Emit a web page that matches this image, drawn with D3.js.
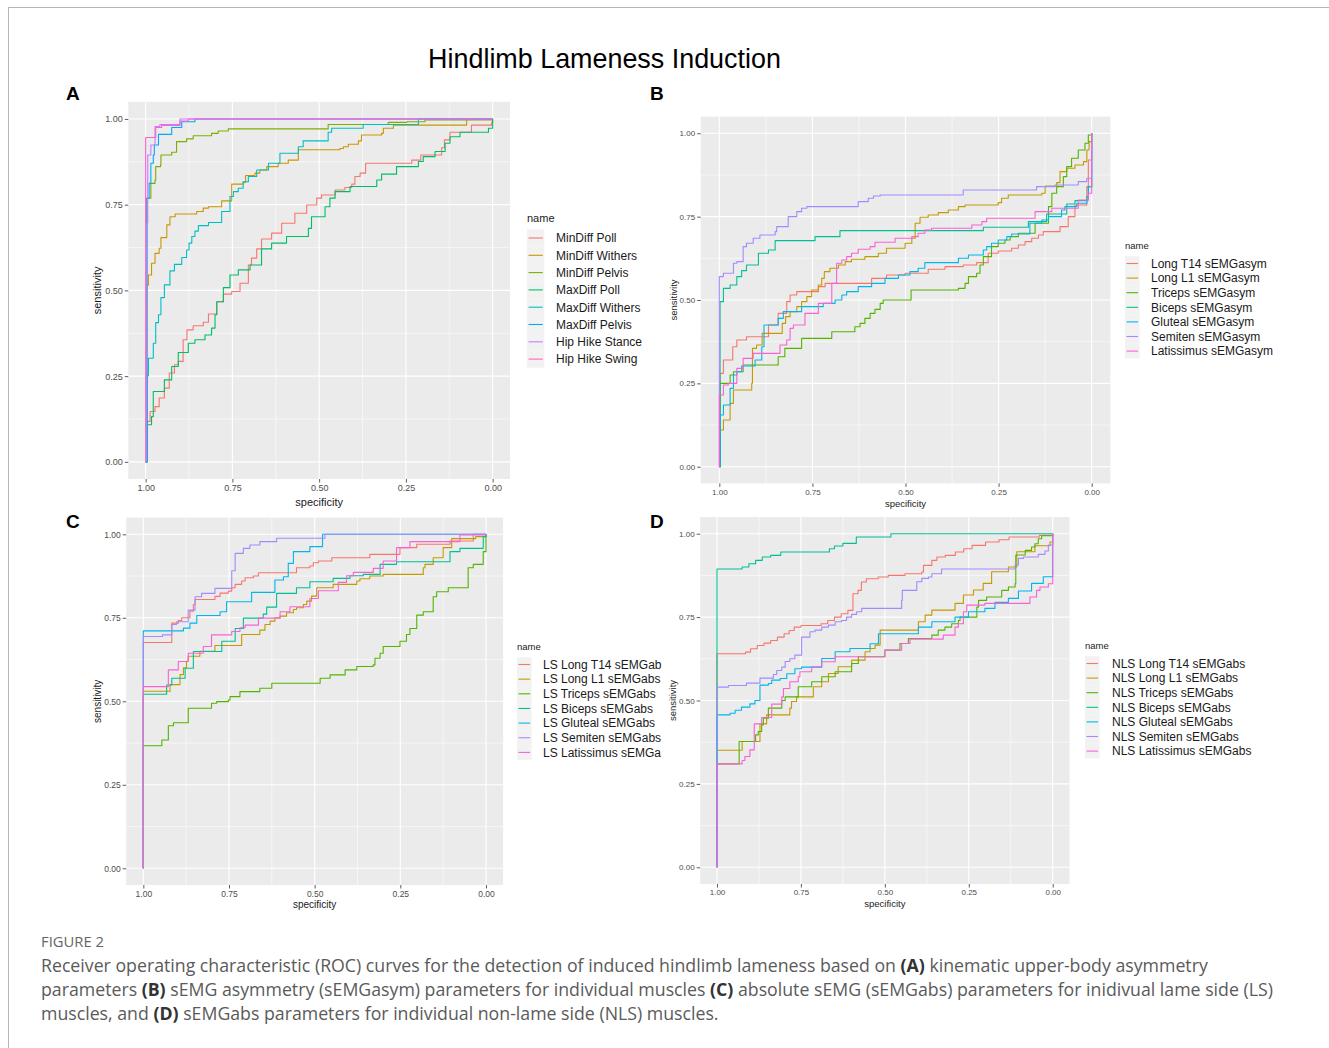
<!DOCTYPE html>
<html><head><meta charset="utf-8">
<script src="https://cdn.jsdelivr.net/npm/d3@7"></script>
<style>body{margin:0;background:#fff;} svg{display:block;font-family:"Liberation Sans",Arial,sans-serif;}</style>
</head><body><script>
// ---------------- DATA ----------------
const tickValues = [1, 0.75, 0.5, 0.25, 0];
const tickLabels = ["1.00", "0.75", "0.50", "0.25", "0.00"];
const minorValues = [0.875, 0.625, 0.375, 0.125];

const namesA = ["MinDiff Poll","MinDiff Withers","MinDiff Pelvis","MaxDiff Poll","MaxDiff Withers","MaxDiff Pelvis","Hip Hike Stance","Hip Hike Swing"];
const namesB = ["Long T14 sEMGasym","Long L1 sEMGasym","Triceps sEMGasym","Biceps sEMGasym","Gluteal sEMGasym","Semiten sEMGasym","Latissimus sEMGasym"];
const namesC = ["LS Long T14 sEMGab","LS Long L1 sEMGabs","LS Triceps sEMGabs","LS Biceps sEMGabs","LS Gluteal sEMGabs","LS Semiten sEMGabs","LS Latissimus sEMGa"];
const namesD = ["NLS Long T14 sEMGabs","NLS Long L1 sEMGabs","NLS Triceps sEMGabs","NLS Biceps sEMGabs","NLS Gluteal sEMGabs","NLS Semiten sEMGabs","NLS Latissimus sEMGabs"];

const colors8 = ["#F8766D","#CD9600","#7CAE00","#00BE67","#00BFC4","#00A9FF","#C77CFF","#FF61CC"];
const colors7 = ["#F8766D","#C49A00","#53B400","#00C094","#00B6EB","#A58AFF","#FB61D7"];

// [specificity, sensitivity] step vertices
const A_MinDiffPoll = [[1,0],[0.996,0.118],[0.987,0.147],[0.973,0.161],[0.961,0.186],[0.946,0.215],[0.932,0.259],[0.917,0.283],[0.906,0.293],[0.892,0.356],[0.881,0.385],[0.863,0.397],[0.834,0.407],[0.819,0.431],[0.795,0.467],[0.776,0.489],[0.752,0.497],[0.728,0.521],[0.704,0.574],[0.695,0.594],[0.680,0.621],[0.666,0.650],[0.637,0.667],[0.608,0.696],[0.570,0.725],[0.536,0.749],[0.507,0.769],[0.493,0.778],[0.454,0.793],[0.426,0.800],[0.406,0.810],[0.397,0.832],[0.382,0.842],[0.366,0.871],[0.233,0.880],[0.207,0.895],[0.147,0.916],[0.139,0.939],[0.123,0.961],[0.061,0.982],[0.003,0.990],[0,1]];
const A_MinDiffWithers = [[1,0],[0.997,0.516],[0.992,0.545],[0.983,0.579],[0.973,0.608],[0.961,0.623],[0.956,0.654],[0.939,0.691],[0.930,0.715],[0.915,0.723],[0.853,0.730],[0.834,0.740],[0.819,0.744],[0.781,0.761],[0.752,0.810],[0.719,0.815],[0.712,0.835],[0.685,0.842],[0.671,0.851],[0.651,0.861],[0.618,0.871],[0.589,0.880],[0.560,0.910],[0.440,0.914],[0.430,0.919],[0.416,0.926],[0.387,0.936],[0.378,0.953],[0.320,0.958],[0.315,0.973],[0.286,0.982],[0.075,1],[0,1]];
const A_MinDiffPelvis = [[1,0],[0.997,0.769],[0.985,0.812],[0.973,0.822],[0.971,0.861],[0.957,0.866],[0.956,0.895],[0.925,0.903],[0.911,0.934],[0.882,0.942],[0.863,0.951],[0.810,0.958],[0.791,0.965],[0.762,0.971],[0.474,0.984],[0.301,0.990],[0.248,0.992],[0.195,0.997],[0,1]];
const A_MaxDiffPoll = [[1,0],[0.996,0.108],[0.983,0.132],[0.978,0.205],[0.946,0.239],[0.925,0.278],[0.906,0.319],[0.877,0.346],[0.858,0.356],[0.829,0.370],[0.810,0.390],[0.800,0.429],[0.795,0.467],[0.776,0.508],[0.757,0.545],[0.733,0.560],[0.699,0.574],[0.666,0.621],[0.637,0.638],[0.594,0.657],[0.531,0.681],[0.522,0.715],[0.483,0.744],[0.469,0.769],[0.454,0.788],[0.411,0.803],[0.334,0.822],[0.320,0.839],[0.277,0.861],[0.214,0.876],[0.200,0.890],[0.166,0.905],[0.137,0.929],[0.123,0.948],[0.094,0.961],[0.012,0.973],[0,1]];
const A_MaxDiffWithers = [[1,0],[0.996,0.251],[0.992,0.302],[0.978,0.346],[0.971,0.406],[0.963,0.429],[0.956,0.479],[0.946,0.516],[0.930,0.557],[0.917,0.576],[0.896,0.596],[0.882,0.618],[0.875,0.638],[0.867,0.657],[0.858,0.673],[0.848,0.689],[0.819,0.698],[0.781,0.730],[0.757,0.774],[0.747,0.788],[0.733,0.798],[0.719,0.817],[0.704,0.832],[0.680,0.851],[0.646,0.871],[0.613,0.900],[0.560,0.919],[0.546,0.936],[0.474,0.961],[0.464,0.973],[0.373,0.984],[0.214,1],[0,1]];
const A_MaxDiffPelvis = [[1,0],[0.996,0.769],[0.990,0.812],[0.985,0.871],[0.978,0.895],[0.975,0.924],[0.963,0.955],[0.925,0.975],[0.896,0.992],[0.858,1],[0,1]];
const A_HipHikeStance = [[1,0],[0.998,0.696],[0.994,0.895],[0.985,0.924],[0.973,0.978],[0.959,0.984],[0.901,1],[0,1]];
const A_HipHikeSwing = [[1,0],[1,0.946],[0.971,0.975],[0.954,0.981],[0.901,0.994],[0.877,1],[0,1]];

const B_LongT14 = [[1,0],[0.998,0.28],[0.989,0.32],[0.964,0.36],[0.953,0.38],[0.927,0.39],[0.868,0.425],[0.842,0.46],[0.819,0.495],[0.810,0.515],[0.792,0.525],[0.734,0.54],[0.716,0.55],[0.591,0.565],[0.551,0.575],[0.501,0.58],[0.439,0.592],[0.394,0.60],[0.345,0.605],[0.309,0.612],[0.278,0.64],[0.251,0.647],[0.215,0.655],[0.197,0.665],[0.179,0.675],[0.161,0.685],[0.143,0.695],[0.130,0.705],[0.085,0.72],[0.063,0.75],[0.045,0.785],[0.013,0.84],[0.009,0.92],[0,1]];
const B_LongL1 = [[1,0],[0.998,0.11],[0.989,0.14],[0.971,0.19],[0.962,0.23],[0.913,0.25],[0.911,0.355],[0.900,0.365],[0.885,0.40],[0.831,0.43],[0.822,0.45],[0.810,0.465],[0.792,0.48],[0.779,0.495],[0.765,0.51],[0.752,0.53],[0.734,0.545],[0.725,0.565],[0.718,0.585],[0.703,0.595],[0.680,0.605],[0.662,0.615],[0.645,0.622],[0.609,0.63],[0.573,0.64],[0.551,0.655],[0.501,0.67],[0.483,0.685],[0.474,0.73],[0.461,0.748],[0.439,0.755],[0.412,0.762],[0.385,0.77],[0.358,0.78],[0.340,0.785],[0.251,0.792],[0.242,0.805],[0.224,0.815],[0.134,0.82],[0.125,0.842],[0.094,0.852],[0.085,0.885],[0.067,0.895],[0.045,0.905],[0.022,0.915],[0.013,0.95],[0.007,0.975],[0,1]];
const B_Triceps = [[1,0],[0.998,0.25],[0.971,0.275],[0.962,0.285],[0.936,0.305],[0.842,0.33],[0.824,0.355],[0.779,0.385],[0.698,0.405],[0.636,0.42],[0.622,0.43],[0.609,0.445],[0.595,0.46],[0.582,0.472],[0.568,0.49],[0.560,0.50],[0.485,0.53],[0.358,0.535],[0.340,0.55],[0.331,0.57],[0.309,0.58],[0.300,0.605],[0.291,0.63],[0.269,0.66],[0.251,0.67],[0.233,0.68],[0.219,0.69],[0.197,0.70],[0.152,0.73],[0.116,0.78],[0.107,0.82],[0.094,0.84],[0.076,0.87],[0.067,0.90],[0.054,0.925],[0.036,0.95],[0.018,0.97],[0.009,0.995],[0,1]];
const B_Biceps = [[1,0],[0.998,0.495],[0.989,0.535],[0.971,0.545],[0.953,0.57],[0.940,0.588],[0.927,0.605],[0.895,0.64],[0.868,0.65],[0.850,0.678],[0.743,0.69],[0.676,0.708],[0.291,0.718],[0.170,0.735],[0.121,0.758],[0.067,0.788],[0.045,0.798],[0.013,0.81],[0.009,0.84],[0,1]];
const B_Gluteal = [[1,0],[0.998,0.155],[0.989,0.185],[0.971,0.235],[0.962,0.275],[0.953,0.285],[0.940,0.302],[0.904,0.32],[0.886,0.36],[0.880,0.425],[0.842,0.445],[0.828,0.465],[0.779,0.48],[0.721,0.49],[0.689,0.50],[0.671,0.515],[0.658,0.525],[0.627,0.54],[0.591,0.55],[0.555,0.565],[0.519,0.575],[0.488,0.585],[0.466,0.595],[0.448,0.612],[0.358,0.625],[0.331,0.635],[0.291,0.65],[0.282,0.66],[0.269,0.67],[0.251,0.68],[0.228,0.69],[0.215,0.698],[0.166,0.73],[0.134,0.74],[0.116,0.75],[0.081,0.77],[0.072,0.78],[0.040,0.79],[0.013,0.80],[0.009,0.84],[0,1]];
const B_Semiten = [[1,0],[1,0.57],[0.989,0.58],[0.962,0.61],[0.953,0.615],[0.936,0.66],[0.927,0.67],[0.909,0.685],[0.891,0.695],[0.850,0.705],[0.846,0.72],[0.815,0.75],[0.792,0.765],[0.779,0.775],[0.765,0.78],[0.627,0.795],[0.600,0.805],[0.586,0.812],[0.568,0.815],[0.345,0.83],[0.148,0.84],[0.098,0.845],[0.036,0.855],[0.013,0.865],[0,1]];
const B_Latissimus = [[1,0],[1,0.215],[0.989,0.245],[0.976,0.25],[0.953,0.295],[0.936,0.325],[0.909,0.34],[0.837,0.365],[0.819,0.38],[0.810,0.415],[0.801,0.425],[0.770,0.46],[0.734,0.49],[0.698,0.55],[0.685,0.61],[0.671,0.62],[0.658,0.63],[0.645,0.64],[0.627,0.652],[0.595,0.66],[0.582,0.673],[0.528,0.685],[0.483,0.69],[0.466,0.70],[0.448,0.71],[0.430,0.715],[0.322,0.725],[0.295,0.735],[0.282,0.745],[0.152,0.765],[0.107,0.775],[0.036,0.80],[0.009,0.82],[0,1]];

const C_LongT14 = [[1,0],[1,0.676],[0.917,0.734],[0.898,0.742],[0.888,0.75],[0.864,0.77],[0.854,0.79],[0.849,0.805],[0.791,0.814],[0.776,0.824],[0.752,0.83],[0.742,0.84],[0.732,0.85],[0.713,0.86],[0.703,0.87],[0.679,0.875],[0.664,0.885],[0.553,0.90],[0.514,0.905],[0.504,0.915],[0.489,0.92],[0.450,0.93],[0.339,0.94],[0.251,0.96],[0.202,0.97],[0.105,0.98],[0.037,1],[0,1]];
const C_LongL1 = [[1,0],[1,0.53],[0.922,0.55],[0.893,0.58],[0.883,0.60],[0.874,0.62],[0.869,0.635],[0.835,0.65],[0.791,0.667],[0.713,0.70],[0.660,0.713],[0.645,0.73],[0.630,0.74],[0.616,0.75],[0.601,0.755],[0.582,0.765],[0.562,0.775],[0.553,0.78],[0.533,0.79],[0.523,0.80],[0.509,0.815],[0.494,0.84],[0.446,0.85],[0.377,0.86],[0.368,0.867],[0.339,0.875],[0.300,0.88],[0.183,0.90],[0.178,0.91],[0.154,0.93],[0.125,0.96],[0.100,0.987],[0.030,0.993],[0,1]];
const C_Triceps = [[1,0],[1,0.367],[0.946,0.384],[0.927,0.427],[0.912,0.436],[0.869,0.479],[0.801,0.494],[0.786,0.499],[0.752,0.504],[0.747,0.514],[0.718,0.529],[0.660,0.539],[0.625,0.554],[0.484,0.569],[0.455,0.579],[0.411,0.594],[0.377,0.604],[0.329,0.609],[0.324,0.629],[0.309,0.644],[0.300,0.664],[0.251,0.68],[0.232,0.70],[0.222,0.718],[0.202,0.758],[0.183,0.768],[0.154,0.813],[0.144,0.828],[0.110,0.84],[0.052,0.90],[0.037,0.91],[0.008,0.948],[0,1]];
const C_Biceps = [[1,0],[1,0.521],[0.932,0.549],[0.917,0.569],[0.878,0.599],[0.854,0.649],[0.771,0.68],[0.732,0.718],[0.708,0.749],[0.650,0.761],[0.640,0.782],[0.611,0.823],[0.553,0.84],[0.514,0.858],[0.446,0.868],[0.397,0.876],[0.358,0.88],[0.309,0.91],[0.261,0.918],[0.105,0.948],[0.076,0.958],[0.008,0.993],[0,1]];
const C_Gluteal = [[1,0],[1,0.711],[0.883,0.719],[0.864,0.734],[0.844,0.757],[0.776,0.768],[0.757,0.798],[0.684,0.826],[0.616,0.863],[0.591,0.873],[0.577,0.913],[0.562,0.948],[0.514,0.963],[0.477,1],[0,1]];
const C_Semiten = [[1,0],[1,0.694],[0.944,0.699],[0.917,0.73],[0.903,0.738],[0.869,0.773],[0.849,0.813],[0.830,0.823],[0.791,0.838],[0.742,0.891],[0.732,0.943],[0.708,0.958],[0.689,0.968],[0.660,0.978],[0.611,0.988],[0.470,1],[0,1]];
const C_Latissimus = [[1,0],[1,0.544],[0.927,0.594],[0.898,0.619],[0.869,0.644],[0.825,0.664],[0.801,0.699],[0.742,0.709],[0.718,0.72],[0.703,0.728],[0.664,0.749],[0.601,0.768],[0.572,0.783],[0.514,0.808],[0.489,0.831],[0.431,0.856],[0.407,0.876],[0.387,0.886],[0.329,0.898],[0.300,0.92],[0.261,0.96],[0.222,0.978],[0.076,0.998],[0,1]];

const D_LongT14 = [[1,0],[1,0.64],[0.915,0.645],[0.9,0.655],[0.88,0.665],[0.86,0.672],[0.84,0.68],[0.82,0.69],[0.80,0.70],[0.785,0.71],[0.77,0.72],[0.75,0.725],[0.69,0.73],[0.67,0.74],[0.65,0.75],[0.63,0.76],[0.61,0.77],[0.595,0.82],[0.58,0.83],[0.57,0.855],[0.555,0.865],[0.52,0.87],[0.49,0.875],[0.44,0.88],[0.39,0.885],[0.385,0.905],[0.36,0.92],[0.345,0.93],[0.32,0.935],[0.29,0.945],[0.265,0.955],[0.24,0.965],[0.2,0.975],[0.16,0.982],[0.13,0.99],[0.04,0.995],[0,1]];
const D_LongL1 = [[1,0],[1,0.351],[0.925,0.377],[0.872,0.43],[0.852,0.457],[0.783,0.477],[0.778,0.497],[0.763,0.511],[0.713,0.541],[0.688,0.556],[0.668,0.581],[0.639,0.601],[0.599,0.621],[0.559,0.646],[0.544,0.656],[0.529,0.666],[0.514,0.711],[0.40,0.736],[0.38,0.756],[0.36,0.771],[0.291,0.791],[0.266,0.816],[0.236,0.831],[0.207,0.851],[0.182,0.886],[0.132,0.90],[0.107,0.946],[0.053,0.964],[0.008,0.975],[0,1]];
const D_Triceps = [[1,0],[1,0.31],[0.934,0.377],[0.885,0.397],[0.877,0.407],[0.867,0.427],[0.862,0.447],[0.847,0.477],[0.807,0.50],[0.797,0.511],[0.758,0.541],[0.718,0.556],[0.688,0.571],[0.648,0.586],[0.599,0.611],[0.579,0.631],[0.50,0.651],[0.455,0.671],[0.43,0.686],[0.36,0.696],[0.341,0.711],[0.321,0.72],[0.301,0.73],[0.281,0.74],[0.276,0.75],[0.226,0.78],[0.221,0.80],[0.197,0.81],[0.152,0.83],[0.132,0.84],[0.112,0.85],[0.110,0.936],[0.082,0.95],[0.063,0.96],[0.053,0.97],[0.043,0.985],[0.033,0.994],[0,1]];
const D_Biceps = [[1,0],[1,0.894],[0.925,0.9],[0.905,0.91],[0.885,0.92],[0.865,0.93],[0.84,0.935],[0.81,0.945],[0.665,0.955],[0.65,0.963],[0.625,0.971],[0.585,0.99],[0.482,1],[0,1]];
const D_Gluteal = [[1,0],[1,0.457],[0.961,0.462],[0.946,0.471],[0.927,0.48],[0.902,0.49],[0.887,0.50],[0.872,0.546],[0.847,0.551],[0.837,0.561],[0.812,0.566],[0.792,0.58],[0.768,0.595],[0.748,0.60],[0.688,0.626],[0.648,0.646],[0.604,0.656],[0.544,0.67],[0.519,0.70],[0.40,0.72],[0.36,0.736],[0.291,0.75],[0.251,0.766],[0.202,0.776],[0.172,0.794],[0.132,0.806],[0.102,0.828],[0.063,0.851],[0.028,0.871],[0,0.875],[0,1]];
const D_Semiten = [[1,0],[1,0.54],[0.966,0.545],[0.912,0.552],[0.872,0.567],[0.832,0.578],[0.822,0.59],[0.807,0.60],[0.797,0.617],[0.783,0.625],[0.768,0.636],[0.748,0.69],[0.723,0.706],[0.708,0.711],[0.688,0.72],[0.668,0.726],[0.648,0.736],[0.629,0.74],[0.614,0.75],[0.599,0.758],[0.584,0.766],[0.569,0.776],[0.45,0.80],[0.448,0.83],[0.405,0.856],[0.39,0.866],[0.37,0.87],[0.36,0.88],[0.331,0.894],[0.112,0.906],[0.102,0.926],[0.087,0.93],[0.043,0.938],[0.023,0.948],[0.013,0.966],[0,1]];
const D_Latissimus = [[1,0],[1,0.31],[0.925,0.32],[0.917,0.332],[0.902,0.352],[0.889,0.367],[0.889,0.43],[0.867,0.449],[0.837,0.489],[0.807,0.511],[0.802,0.536],[0.783,0.556],[0.758,0.571],[0.753,0.586],[0.718,0.601],[0.688,0.616],[0.648,0.631],[0.50,0.651],[0.45,0.671],[0.425,0.684],[0.326,0.696],[0.291,0.72],[0.281,0.73],[0.266,0.766],[0.256,0.786],[0.202,0.791],[0.068,0.81],[0.048,0.83],[0.038,0.84],[0.013,0.85],[0,0.85],[0,1]];

const seriesA = [A_MinDiffPoll, A_MinDiffWithers, A_MinDiffPelvis, A_MaxDiffPoll, A_MaxDiffWithers, A_MaxDiffPelvis, A_HipHikeStance, A_HipHikeSwing];
const seriesB = [B_LongT14, B_LongL1, B_Triceps, B_Biceps, B_Gluteal, B_Semiten, B_Latissimus];
const seriesC = [C_LongT14, C_LongL1, C_Triceps, C_Biceps, C_Gluteal, C_Semiten, C_Latissimus];
const seriesD = [D_LongT14, D_LongL1, D_Triceps, D_Biceps, D_Gluteal, D_Semiten, D_Latissimus];

const figTitle = "Hindlimb Lameness Induction";
const figLabel = "FIGURE 2";
const captionLines = [
  [["Receiver operating characteristic (ROC) curves for the detection of induced hindlimb lameness based on ",0],["(A)",1],[" kinematic upper-body asymmetry",0]],
  [["parameters ",0],["(B)",1],[" sEMG asymmetry (sEMGasym) parameters for individual muscles ",0],["(C)",1],[" absolute sEMG (sEMGabs) parameters for inidivual lame side (LS)",0]],
  [["muscles, and ",0],["(D)",1],[" sEMGabs parameters for individual non-lame side (NLS) muscles.",0]]
];

// ---------------- LAYOUT ----------------
const W = 1329, H = 1048;
const panels = [
  {letter:"A", lx:66, ly:100, box:[128.3,510,101.8,479], names:namesA, series:seriesA, colors:colors8,
   tickFs:9, axFs:11, xTitleY:506, yTitleX:101,
   leg:{x:527, titleY:222, y0:238, step:17.3, key:17.3, fs:12, titleFs:11, tx:556}},
  {letter:"B", lx:650, ly:100, box:[700.7,1110.3,116.6,483.4], names:namesB, series:seriesB, colors:colors7,
   tickFs:8, axFs:9.5, xTitleY:507, yTitleX:677,
   leg:{x:1125, titleY:248.5, y0:263.5, step:14.6, key:14.6, fs:12, titleFs:9.5, tx:1151}},
  {letter:"C", lx:66, ly:528, box:[126.2,503.1,517.6,885], names:namesC, series:seriesC, colors:colors7,
   tickFs:8.5, axFs:10, xTitleY:908, yTitleX:101,
   leg:{x:517, titleY:649.5, y0:664.5, step:14.65, key:14.65, fs:12, titleFs:9.5, tx:543}},
  {letter:"D", lx:650, ly:528, box:[700.2,1069.5,517,884], names:namesD, series:seriesD, colors:colors7,
   tickFs:8, axFs:9.5, xTitleY:907, yTitleX:676,
   leg:{x:1085, titleY:649, y0:663.5, step:14.6, key:14.6, fs:12, titleFs:9.5, tx:1112}}
];

const svg = d3.select("body").append("svg").attr("width", W).attr("height", H);
svg.append("rect").attr("width", W).attr("height", H).attr("fill", "#fff");

// frame
svg.append("line").attr("x1", 8).attr("x2", W).attr("y1", 7.5).attr("y2", 7.5).attr("stroke", "#b5b5b5").attr("stroke-width", 1);
svg.append("line").attr("x1", 8.5).attr("x2", 8.5).attr("y1", 7).attr("y2", H).attr("stroke", "#b5b5b5").attr("stroke-width", 1);

function fitWidth(sel, target) {
  const w = sel.node().getComputedTextLength();
  const fs = parseFloat(sel.attr("font-size"));
  sel.attr("font-size", fs * target / w);
}

// title
const t = svg.append("text").attr("x", 604.5).attr("y", 68).attr("text-anchor", "middle")
  .attr("font-size", 24).attr("fill", "#000").text(figTitle);
fitWidth(t, 353);

panels.forEach(p => {
  const [L, R, T, B] = p.box;
  const x = d3.scaleLinear().domain([1.05, -0.05]).range([L, R]);
  const y = d3.scaleLinear().domain([-0.05, 1.05]).range([B, T]);
  const g = svg.append("g");

  svg.append("text").attr("x", p.lx).attr("y", p.ly).attr("font-size", 19).attr("font-weight", "bold")
    .attr("fill", "#000").text(p.letter);

  g.append("rect").attr("x", L).attr("y", T).attr("width", R - L).attr("height", B - T).attr("fill", "#EBEBEB");
  // minor grid
  g.selectAll(".mx").data(minorValues).join("line").attr("x1", d => x(d)).attr("x2", d => x(d))
    .attr("y1", T).attr("y2", B).attr("stroke", "#fff").attr("stroke-width", 0.55);
  g.selectAll(".my").data(minorValues).join("line").attr("y1", d => y(d)).attr("y2", d => y(d))
    .attr("x1", L).attr("x2", R).attr("stroke", "#fff").attr("stroke-width", 0.55);
  // major grid
  g.selectAll(".Mx").data(tickValues).join("line").attr("x1", d => x(d)).attr("x2", d => x(d))
    .attr("y1", T).attr("y2", B).attr("stroke", "#fff").attr("stroke-width", 1.1);
  g.selectAll(".My").data(tickValues).join("line").attr("y1", d => y(d)).attr("y2", d => y(d))
    .attr("x1", L).attr("x2", R).attr("stroke", "#fff").attr("stroke-width", 1.1);

  const line = d3.line().x(d => x(d[0])).y(d => y(d[1])).curve(d3.curveStepAfter);
  p.series.forEach((s, i) => {
    g.append("path").attr("d", line(s)).attr("fill", "none").attr("stroke", p.colors[i])
      .attr("stroke-width", 1.1).attr("stroke-linejoin", "round");
  });

  // axes
  const fmt = (d) => tickLabels[tickValues.indexOf(d)];
  const ax = svg.append("g").attr("transform", `translate(0,${B})`)
    .call(d3.axisBottom(x).tickValues(tickValues).tickFormat(fmt).tickSize(3.5).tickPadding(2));
  const ay = svg.append("g").attr("transform", `translate(${L},0)`)
    .call(d3.axisLeft(y).tickValues(tickValues).tickFormat(fmt).tickSize(3.5).tickPadding(2));
  [ax, ay].forEach(a => {
    a.select(".domain").remove();
    a.selectAll(".tick line").attr("stroke", "#333").attr("stroke-width", 0.8);
    a.selectAll(".tick text").attr("fill", "#4D4D4D").attr("font-size", p.tickFs)
      .attr("font-family", '"Liberation Sans",Arial,sans-serif');
  });

  svg.append("text").attr("x", (L + R) / 2).attr("y", p.xTitleY).attr("text-anchor", "middle")
    .attr("font-size", p.axFs).attr("fill", "#1a1a1a").text("specificity");
  svg.append("text").attr("transform", `translate(${p.yTitleX},${(T + B) / 2}) rotate(-90)`)
    .attr("text-anchor", "middle").attr("font-size", p.axFs).attr("fill", "#1a1a1a").text("sensitivity");

  // legend
  const lg = p.leg;
  svg.append("text").attr("x", lg.x).attr("y", lg.titleY).attr("font-size", lg.titleFs).attr("fill", "#1a1a1a").text("name");
  p.names.forEach((n, i) => {
    const cy = lg.y0 + i * lg.step;
    svg.append("rect").attr("x", lg.x).attr("y", cy - lg.key / 2).attr("width", lg.key).attr("height", lg.key)
      .attr("fill", "#F2F2F2");
    svg.append("line").attr("x1", lg.x + 1.5).attr("x2", lg.x + lg.key - 1.5).attr("y1", cy).attr("y2", cy)
      .attr("stroke", p.colors[i]).attr("stroke-width", 1.1);
    svg.append("text").attr("x", lg.tx).attr("y", cy).attr("dy", "0.36em").attr("font-size", lg.fs)
      .attr("fill", "#1a1a1a").text(n);
  });
});

// caption
const capFont = '"Open Sans","Noto Sans",sans-serif';
const fl = svg.append("text").attr("x", 41).attr("y", 947).attr("font-size", 13).attr("fill", "#666")
  .attr("font-family", capFont).text(figLabel);
fitWidth(fl, 63);

const capTexts = captionLines.map((parts, li) => {
  const tx = svg.append("text").attr("x", 41).attr("y", 972 + li * 24).attr("font-size", 17)
    .attr("fill", "#5a5a5a").attr("font-family", capFont);
  parts.forEach(([s, b]) => {
    tx.append("tspan").attr("font-weight", b ? "bold" : null).attr("fill", b ? "#333" : null).text(s);
  });
  return tx;
});
const w2 = capTexts[1].node().getComputedTextLength();
const capFs = 17 * 1232 / w2;
capTexts.forEach(tx => tx.attr("font-size", capFs));
</script></body></html>
